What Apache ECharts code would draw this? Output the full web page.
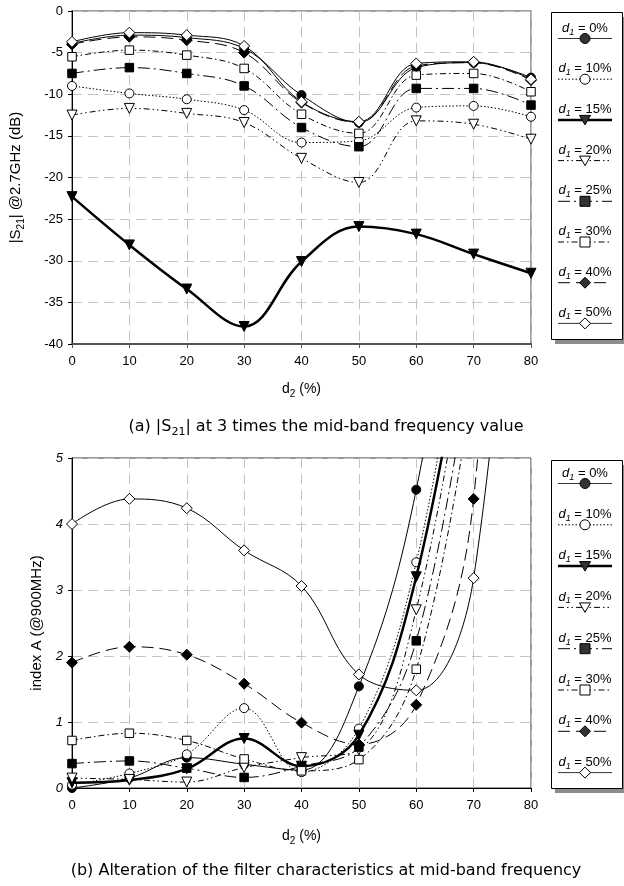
<!DOCTYPE html>
<html><head><meta charset="utf-8">
<script src="https://cdn.jsdelivr.net/npm/echarts@6/dist/echarts.min.js"></script>
<style>html,body{margin:0;padding:0;background:#fff}#c{width:624px;height:886px}</style>
</head><body><div id="c"></div>
<script>
// x positions (d2, %)
const d2 = [0, 10, 20, 30, 40, 50, 60, 70, 80];
const legendLabels = ['0%', '10%', '15%', '20%', '25%', '30%', '40%', '50%'];

// (a) |S21| @2.7GHz (dB)
const s21_d1_0  = [-3.9, -2.9, -3.2, -4.5, -10.1, -13.4, -6.8, -6.2, -8.0];
const s21_d1_10 = [-9.0, -9.9, -10.6, -11.9, -15.8, -15.6, -11.6, -11.4, -12.7];
const s21_d1_15 = [-22.3, -28.1, -33.4, -37.9, -30.1, -25.9, -26.8, -29.2, -31.5];
const s21_d1_20 = [-12.5, -11.7, -12.3, -13.4, -17.7, -20.6, -13.2, -13.6, -15.4];
const s21_d1_25 = [-7.5, -6.8, -7.5, -9.0, -14.0, -16.3, -9.3, -9.3, -11.3];
const s21_d1_30 = [-5.5, -4.7, -5.3, -6.9, -12.4, -14.7, -7.7, -7.5, -9.7];
const s21_d1_40 = [-4.0, -3.1, -3.5, -5.0, -11.0, -13.4, -6.6, -6.2, -8.3];
const s21_d1_50 = [-3.7, -2.6, -2.9, -4.2, -10.9, -13.3, -6.3, -6.1, -8.2];

// (b) index A (@900MHz)
const idxA_d1_0  = [0.0, 0.15, 0.46, 0.36, 0.27, 1.54, 4.52, 10];
const idxA_d1_10 = [0.05, 0.22, 0.51, 1.21, 0.24, 0.9, 3.42, 8.3];
const idxA_d1_15 = [0.08, 0.12, 0.29, 0.75, 0.33, 0.8, 3.2, 7.8];
const idxA_d1_20 = [0.15, 0.13, 0.09, 0.31, 0.46, 0.58, 2.7, 7.5];
const idxA_d1_25 = [0.37, 0.41, 0.3, 0.16, 0.33, 0.62, 2.23, 6.8];
const idxA_d1_30 = [0.72, 0.83, 0.72, 0.44, 0.26, 0.43, 1.8, 6.2];
const idxA_d1_40 = [1.9, 2.14, 2.02, 1.58, 0.99, 0.66, 1.26, 4.38, 18];
const idxA_d1_50 = [4.0, 4.38, 4.24, 3.6, 3.06, 1.72, 1.48, 3.18, 13];

const topSeries = [s21_d1_0, s21_d1_10, s21_d1_15, s21_d1_20, s21_d1_25, s21_d1_30, s21_d1_40, s21_d1_50];
const botSeries = [idxA_d1_0, idxA_d1_10, idxA_d1_15, idxA_d1_20, idxA_d1_25, idxA_d1_30, idxA_d1_40, idxA_d1_50];

const styles = [
  {sym: 'circle', size: 9, fill: '#000', lw: 1, dash: 'solid'},
  {sym: 'circle', size: 9, fill: '#fff', lw: 1, dash: [1.5, 2]},
  {sym: 'triangle', size: 10, fill: '#000', lw: 2.5, dash: 'solid'},
  {sym: 'triangle', size: 10, fill: '#fff', lw: 1, dash: [6, 3, 1.5, 3, 1.5, 3]},
  {sym: 'rect', size: 8.5, fill: '#000', lw: 1, dash: [12, 4, 2, 4]},
  {sym: 'rect', size: 8.5, fill: '#fff', lw: 1, dash: [6, 3, 1.5, 3]},
  {sym: 'diamond', size: 11, fill: '#000', lw: 1, dash: [12, 6]},
  {sym: 'diamond', size: 11, fill: '#fff', lw: 1, dash: 'solid'}
];

const AR = "'Liberation Sans', Arial, sans-serif";
const CAP = "'DejaVu Sans', Verdana, sans-serif";

function mkSeries(arrs, gi) {
  return arrs.map((arr, k) => {
    const s = styles[k];
    return {
      type: 'line', name: 'd1 = ' + legendLabels[k],
      xAxisIndex: gi, yAxisIndex: gi,
      data: arr.map((v, i) => [d2[i], v]),
      smooth: 0.38, clip: true,
      symbol: s.sym, symbolSize: s.size, symbolRotate: s.sym === 'triangle' ? 180 : 0,
      showAllSymbol: true,
      lineStyle: {color: '#000', width: s.lw, type: s.dash},
      itemStyle: {color: s.fill, borderColor: '#000', borderWidth: 1},
      emphasis: {disabled: true}, z: 2 + k
    };
  });
}

function xAxisDef(gi, nameGap, axisColor, axisW, margin) {
  return {
    type: 'value', gridIndex: gi, min: 0, max: 80, interval: 10,
    name: 'd{sub|2} (%)', nameLocation: 'middle', nameGap: nameGap,
    nameTextStyle: {fontFamily: AR, fontSize: 14, color: '#000',
      rich: {sub: {fontFamily: AR, fontSize: 10, verticalAlign: 'bottom', lineHeight: 20, color: '#000'}}},
    axisLine: {show: true, onZero: false, lineStyle: {color: axisColor, width: axisW}},
    axisTick: {show: true, inside: false, length: 4, lineStyle: {color: axisColor}},
    axisLabel: {fontFamily: AR, fontSize: 13, color: '#000', margin: margin},
    splitLine: {show: true, lineStyle: {color: '#c4c4c4', width: 1, type: [10, 6]}}
  };
}

function legendGroup(top, height, firstY, step) {
  const ch = [];
  ch.push({type: 'rect', shape: {x: 555, y: top + 5, width: 72, height: height}, style: {fill: '#8c8c8c'}});
  ch.push({type: 'rect', shape: {x: 551.5, y: top + 0.5, width: 71, height: height}, style: {fill: '#fff', stroke: '#000', lineWidth: 1}});
  styles.forEach((s, i) => {
    const ty = firstY + i * step;
    const ly = ty + 10.5;
    const cx = 585;
    ch.push({type: 'text', style: {
      text: '{i|d}{s|1}{n| = ' + legendLabels[i] + '}', x: cx, y: ty, align: 'center', verticalAlign: 'middle',
      rich: {
        i: {fontFamily: AR, fontSize: 13, fontStyle: 'italic', lineHeight: 17, verticalAlign: 'middle', fill: '#000'},
        s: {fontFamily: AR, fontSize: 9, fontStyle: 'italic', lineHeight: 17, verticalAlign: 'bottom', fill: '#000'},
        n: {fontFamily: AR, fontSize: 13, lineHeight: 17, verticalAlign: 'middle', fill: '#000'}
      }}});
    ch.push({type: 'line', shape: {x1: 558, y1: ly, x2: 612, y2: ly},
      style: {stroke: i === 0 || i === 7 ? '#333' : '#000', lineWidth: s.lw, lineDash: s.dash === 'solid' ? null : s.dash}});
    const mfill = s.fill === '#000' ? '#333' : '#fff';
    const mst = {fill: mfill, stroke: '#000', lineWidth: 1};
    if (s.sym === 'circle') ch.push({type: 'circle', shape: {cx: cx, cy: ly, r: 5}, style: mst});
    else if (s.sym === 'triangle') ch.push({type: 'polygon', shape: {points: [[cx - 5.5, ly - 4.5], [cx + 5.5, ly - 4.5], [cx, ly + 5]]}, style: mst});
    else if (s.sym === 'rect') ch.push({type: 'rect', shape: {x: cx - 5, y: ly - 5, width: 10, height: 10}, style: mst});
    else ch.push({type: 'polygon', shape: {points: [[cx, ly - 5.5], [cx + 5.5, ly], [cx, ly + 5.5], [cx - 5.5, ly]]}, style: mst});
  });
  return {type: 'group', children: ch};
}

const chart = echarts.init(document.getElementById('c'), null, {renderer: 'canvas'});
chart.setOption({
  animation: false,
  backgroundColor: '#fff',
  grid: [
    {left: 72, right: 93, top: 11, height: 333, show: true, borderColor: '#808080', borderWidth: 1.5, containLabel: false},
    {left: 72, right: 93, top: 458, height: 330, show: true, borderColor: '#333', borderWidth: 1, containLabel: false}
  ],
  xAxis: [xAxisDef(0, 35, '#555', 2, 11), xAxisDef(1, 38, '#000', 1, 11)],
  yAxis: [
    {type: 'value', gridIndex: 0, min: -40, max: 0, interval: 5,
     name: '|S{sub|21}| @2.7GHz (dB)', nameLocation: 'middle', nameGap: 46, nameRotate: 90,
     nameTextStyle: {fontFamily: AR, fontSize: 15, color: '#000',
       rich: {sub: {fontFamily: AR, fontSize: 10, verticalAlign: 'bottom', lineHeight: 21, color: '#000'}}},
     axisLine: {show: true, onZero: false, lineStyle: {color: '#000', width: 1}},
     axisTick: {show: true, inside: false, length: 4, lineStyle: {color: '#000'}},
     axisLabel: {fontFamily: AR, fontSize: 13, color: '#000', margin: 9},
     splitLine: {show: true, lineStyle: {color: '#c4c4c4', width: 1, type: [10, 6]}}},
    {type: 'value', gridIndex: 1, min: 0, max: 5, interval: 1,
     name: 'index A (@900MHz)', nameLocation: 'middle', nameGap: 28, nameRotate: 90,
     nameTextStyle: {fontFamily: AR, fontSize: 15, color: '#000'},
     axisLine: {show: true, onZero: false, lineStyle: {color: '#000', width: 1}},
     axisTick: {show: true, inside: false, length: 4, lineStyle: {color: '#000'}},
     axisLabel: {fontFamily: AR, fontSize: 13, fontStyle: 'italic', color: '#000', margin: 9},
     splitLine: {show: true, lineStyle: {color: '#c4c4c4', width: 1, type: [10, 6]}}}
  ],
  series: mkSeries(topSeries, 0).concat(mkSeries(botSeries, 1)),
  graphic: [
    legendGroup(12, 327, 28, 40.7),
    legendGroup(460, 328, 473, 41.3),
    {type: 'text', style: {text: '(a) |S{s|21}| at 3 times the mid-band frequency value', x: 326, y: 427, align: 'center', verticalAlign: 'middle',
      font: '16px ' + CAP, fill: '#000',
      rich: {s: {fontFamily: CAP, fontSize: 11, verticalAlign: 'bottom', lineHeight: 22, fill: '#000'}}}},
    {type: 'text', style: {text: '(b) Alteration of the filter characteristics at mid-band frequency', x: 326, y: 871, align: 'center', verticalAlign: 'middle',
      font: '16px ' + CAP, fill: '#000'}}
  ]
});
</script>
</body></html>
